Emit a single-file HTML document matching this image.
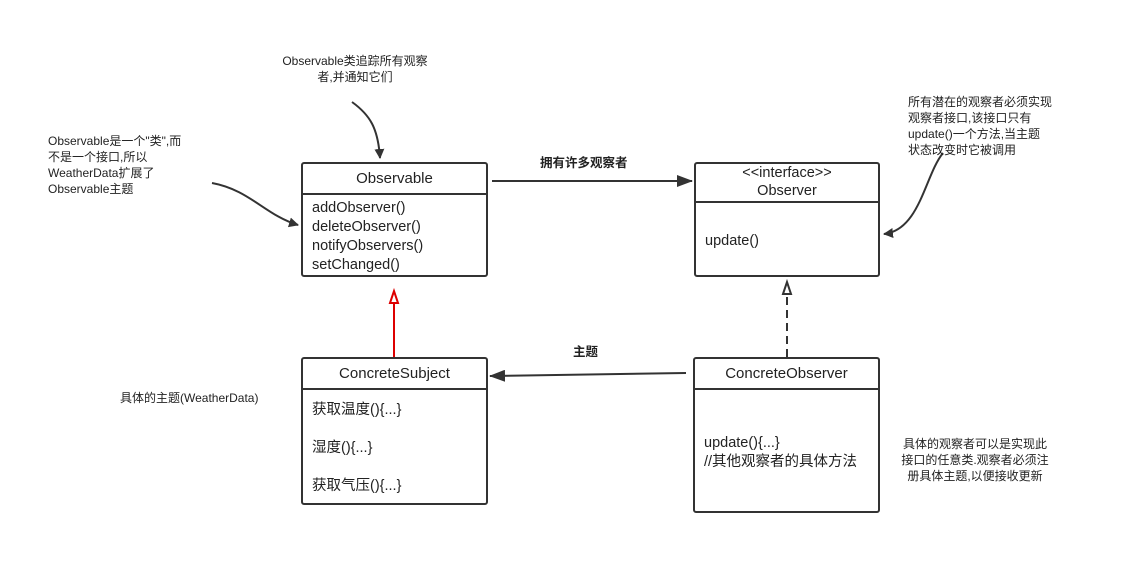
<!DOCTYPE html>
<html><head><meta charset="utf-8"><style>
body{margin:0;background:#fff;}
.w{position:relative;width:1130px;height:575px;overflow:hidden;font-family:"Liberation Sans","Noto Sans CJK SC",sans-serif;color:#222;}
.t{position:absolute;font-size:12px;line-height:16px;}
.box{position:absolute;border:2px solid #333;border-radius:3px;background:#fff;box-sizing:border-box;}
.hd{border-bottom:2px solid #333;text-align:center;font-size:15px;}
.m{font-size:14.5px;line-height:19px;padding-left:9px;}
</style></head><body><div class="w">
<svg width="1130" height="575" style="position:absolute;left:0;top:0">
<defs>
<marker id="a" markerWidth="10" markerHeight="10" refX="9" refY="5" orient="auto" markerUnits="userSpaceOnUse"><path d="M0,0 L10,5 L0,10 Z" fill="#333"/></marker>
<marker id="a2" markerWidth="16" markerHeight="12" refX="15" refY="6" orient="auto" markerUnits="userSpaceOnUse"><path d="M0,0 L16,6 L0,12 Z" fill="#333"/></marker>
</defs>
<line x1="492" y1="181" x2="692" y2="181" stroke="#333" stroke-width="2" marker-end="url(#a2)"/>
<line x1="686" y1="373" x2="490" y2="376" stroke="#333" stroke-width="2" marker-end="url(#a2)"/>
<line x1="394" y1="357" x2="394" y2="303" stroke="#d00" stroke-width="2"/>
<path d="M390,303 L394,291 L398,303 Z" fill="#fff" stroke="#d00" stroke-width="2"/>
<line x1="787" y1="357" x2="787" y2="294" stroke="#333" stroke-width="2" stroke-dasharray="8,5"/>
<path d="M783,294 L787,282 L791,294 Z" fill="#fff" stroke="#333" stroke-width="2"/>
<path d="M352,102 C370,115 378,128 380,158" fill="none" stroke="#333" stroke-width="2" marker-end="url(#a)"/>
<path d="M212,183 C250,190 265,215 298,225" fill="none" stroke="#333" stroke-width="2" marker-end="url(#a)"/>
<path d="M943,153 C925,175 920,230 884,234" fill="none" stroke="#333" stroke-width="2" marker-end="url(#a)"/>
</svg>
<div class="t" style="left:275px;top:53px;width:160px;text-align:center;">Observable类追踪所有观察者,并通知它们</div>
<div class="t" style="left:48px;top:133px;width:160px;">Observable是一个"类",而<br>不是一个接口,所以<br>WeatherData扩展了<br>Observable主题</div>
<div class="t" style="left:908px;top:94px;width:170px;">所有潜在的观察者必须实现<br>观察者接口,该接口只有<br>update()一个方法,当主题<br>状态改变时它被调用</div>
<div class="t" style="left:120px;top:390px;">具体的主题(WeatherData)</div>
<div class="t" style="left:895px;top:436px;width:160px;text-align:center;">具体的观察者可以是实现此<br>接口的任意类.观察者必须注<br>册具体主题,以便接收更新</div>
<div class="t" style="left:540px;top:155px;font-weight:bold;font-size:12.5px;">拥有许多观察者</div>
<div class="t" style="left:573px;top:344px;font-weight:bold;font-size:12.5px;">主题</div>
<div class="box" style="left:301px;top:162px;width:187px;height:115px;">
<div class="hd" style="height:29px;line-height:29px;">Observable</div>
<div class="m" style="padding-top:4px;">addObserver()<br>deleteObserver()<br>notifyObservers()<br>setChanged()</div></div>
<div class="box" style="left:694px;top:162px;width:186px;height:115px;">
<div class="hd" style="height:37px;line-height:18px;font-size:14.5px;">&lt;&lt;interface&gt;&gt;<br>Observer</div>
<div class="m" style="padding-top:29px;">update()</div></div>
<div class="box" style="left:301px;top:357px;width:187px;height:148px;">
<div class="hd" style="height:29px;line-height:29px;">ConcreteSubject</div>
<div class="m" style="padding-top:10px;line-height:38px;margin-top:-9px;">获取温度(){...}<br>湿度(){...}<br>获取气压(){...}</div></div>
<div class="box" style="left:693px;top:357px;width:187px;height:156px;">
<div class="hd" style="height:29px;line-height:29px;">ConcreteObserver</div>
<div class="m" style="padding-top:44px;">update(){...}<br>//其他观察者的具体方法</div></div>
</div></body></html>
